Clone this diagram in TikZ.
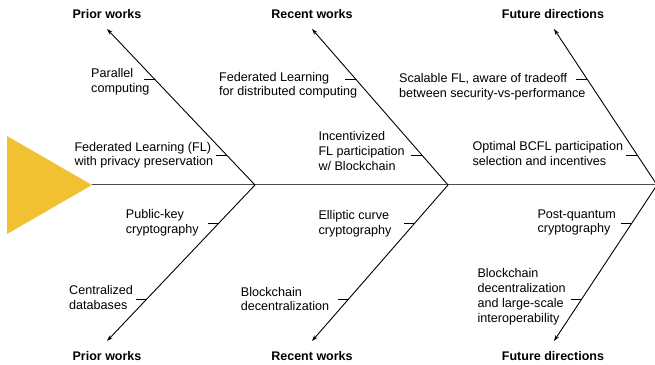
\documentclass[tikz,border=0pt]{standalone}
\usepackage{fontspec}
\setmainfont{Liberation Sans}
\usetikzlibrary{arrows.meta}
\definecolor{fishgold}{RGB}{241,193,50}
\begin{document}
\begin{tikzpicture}[x=1pt,y=1pt,
  bone/.style={line width=0.9pt, black},
  spine/.style={line width=1pt, black!70},
  tickmark/.style={line width=0.8pt, black},
  arr/.style={-{Stealth[length=6pt,width=4pt]}},
  lab/.style={anchor=north west, inner sep=0pt, align=left, font=\fontsize{12.6}{14.8}\selectfont},
  head/.style={anchor=base, inner sep=0pt, font=\fontsize{12.5}{15}\selectfont\bfseries}]
\useasboundingbox (0,0) rectangle (655,364);
% head triangle
\coordinate (A) at (92,179);
\fill[fishgold] (7,228) -- (7,130) -- (A) -- cycle;
% joints and tips
\coordinate (J1) at (255,179);
\coordinate (J2) at (448,179);
\coordinate (J3) at (657,179);
\coordinate (T1u) at (107,335);
\coordinate (T2u) at (312,335);
\coordinate (T3u) at (554,335);
\coordinate (T1d) at (107,23);
\coordinate (T2d) at (312,23);
\coordinate (T3d) at (554,23);
% spine
\draw[spine] (A) -- (J3);
% bones
\draw[bone,arr] (J1) -- (T1u);
\draw[bone,arr] (J2) -- (T2u);
\draw[bone,arr] (J3) -- (T3u);
\draw[bone,arr] (J1) -- (T1d);
\draw[bone,arr] (J2) -- (T2d);
\draw[bone,arr] (J3) -- (T3d);
% tick points
\path (J1) -- (T1u) coordinate[pos=0.679] (k1) coordinate[pos=0.192] (k2);
\path (J2) -- (T2u) coordinate[pos=0.679] (k3) coordinate[pos=0.192] (k4);
\path (J3) -- (T3u) coordinate[pos=0.679] (k5) coordinate[pos=0.192] (k6);
\path (J1) -- (T1d) coordinate[pos=0.244] (k7) coordinate[pos=0.731] (k8);
\path (J2) -- (T2d) coordinate[pos=0.244] (k9) coordinate[pos=0.731] (k10);
\path (J3) -- (T3d) coordinate[pos=0.244] (k11) coordinate[pos=0.731] (k12);
\foreach \k in {k1,k2,k3,k4,k5,k6,k7,k8,k9,k10,k11,k12}
  \draw[tickmark] (\k) -- ++(-11,0);
% headings
\node[head] (h1u) at (107,345.3) {Prior works};
\node[head] (h2u) at (312,345.3) {Recent works};
\node[head] (h3u) at (553,345.3) {Future directions};
\node[head] (h1d) at (107,4) {Prior works};
\node[head] (h2d) at (312,4) {Recent works};
\node[head] (h3d) at (553,4) {Future directions};
% labels
\node[lab] (l1) at (91,295.7) {Parallel\\computing};
\node[lab] (l2) at (74.3,222.3) {Federated Learning (FL)\\with privacy preservation};
\node[lab] (l3) at (219,292.3) {Federated Learning\\for distributed computing};
\node[lab] (l4) at (318.3,232.7) {Incentivized\\FL participation\\w/ Blockchain};
\node[lab] (l5) at (399,290.7) {Scalable FL, aware of tradeoff\\between security-vs-performance};
\node[lab] (l6) at (472.3,223) {Optimal BCFL participation\\selection and incentives};
\node[lab] (l7) at (125.7,155) {Public-key\\cryptography};
\node[lab] (l8) at (69,79) {Centralized\\databases};
\node[lab] (l9) at (318.3,154) {Elliptic curve\\cryptography};
\node[lab] (l10) at (240.7,77.3) {Blockchain\\decentralization};
\node[lab] (l11) at (537.3,154.7) {Post-quantum\\cryptography};
\node[lab] (l12) at (477.3,95.7) {Blockchain\\decentralization\\and large-scale\\interoperability};
\end{tikzpicture}
\end{document}
